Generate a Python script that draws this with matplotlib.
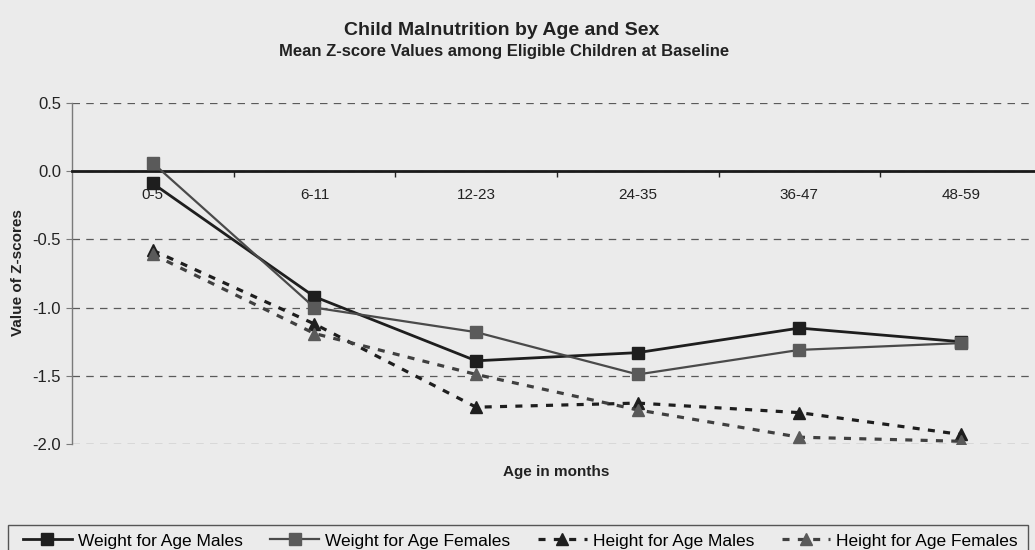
import matplotlib.pyplot as plt
from matplotlib.patches import Rectangle
from matplotlib.ticker import FixedLocator

plt.rcParams['font.family'] = ['Liberation Sans', 'DejaVu Sans']

# Mean z-scores by age group
age_groups = ['0-5', '6-11', '12-23', '24-35', '36-47', '48-59']
weight_males = [-0.09, -0.92, -1.39, -1.33, -1.15, -1.25]
weight_females = [0.06, -1.00, -1.18, -1.49, -1.31, -1.26]
height_males = [-0.58, -1.12, -1.73, -1.70, -1.77, -1.93]
height_females = [-0.61, -1.19, -1.49, -1.75, -1.95, -1.98]
y_ticks = [0.5, 0.0, -0.5, -1.0, -1.5, -2.0]

bg = '#ebebeb'
fig = plt.figure(figsize=(10.35, 5.5), dpi=100, facecolor=bg)
ax = fig.add_axes([0.0696, 0.1927, 0.937, 0.62])
ax.set_facecolor(bg)

x = list(range(len(age_groups)))
dash = (0, (2.2, 2.6))

ax.plot(x, weight_males, color='#1e1e1e', lw=2.0, marker='s', ms=8.5,
        mfc='#1e1e1e', mec='#1e1e1e', label='Weight for Age Males', zorder=4)
ax.plot(x, weight_females, color='#4a4a4a', lw=1.6, marker='s', ms=8.5,
        mfc='#5a5a5a', mec='#5a5a5a', label='Weight for Age Females', zorder=4)
ax.plot(x, height_males, color='#1e1e1e', lw=2.3, ls=dash, marker='^', ms=8.5,
        mfc='#1e1e1e', mec='#1e1e1e', label='Height for Age Males', zorder=4)
ax.plot(x, height_females, color='#404040', lw=2.3, ls=dash, marker='^', ms=8.5,
        mfc='#5a5a5a', mec='#5a5a5a', label='Height for Age Females', zorder=4)

ax.set_xlim(-0.5, len(age_groups) - 0.5)
ax.set_ylim(-2.0, 0.5)

# horizontal axis sits on the zero line
ax.spines['bottom'].set_position(('data', 0))
ax.spines['bottom'].set_linewidth(2.0)
ax.spines['bottom'].set_color('#1a1a1a')
ax.spines['top'].set_visible(False)
ax.spines['right'].set_visible(False)
ax.spines['left'].set_color('#7a7a7a')
ax.spines['left'].set_linewidth(1.0)

ax.set_xticks(x)
ax.set_xticklabels(age_groups, fontsize=11, color='#222222')
ax.tick_params(axis='x', which='major', length=0, pad=12)
ax.xaxis.set_minor_locator(FixedLocator([i + 0.5 for i in x[:-1]]))
ax.tick_params(axis='x', which='minor', length=4, direction='out', color='#222222', width=1)

ax.set_yticks(y_ticks)
ax.set_yticklabels([f'{v:.1f}' for v in y_ticks], fontsize=12, color='#222222')
ax.tick_params(axis='y', length=4, direction='out', color='#7a7a7a', pad=4)
ax.yaxis.grid(True, ls=(0, (6, 5)), color='#5a5a5a', lw=0.9)
ax.set_axisbelow(True)

fig.text(0.485, 0.945, 'Child Malnutrition by Age and Sex', ha='center', va='center',
         fontsize=14, fontweight='bold', color='#222222')
fig.text(0.487, 0.907, 'Mean Z-score Values among Eligible Children at Baseline', ha='center',
         va='center', fontsize=12, fontweight='bold', color='#222222')
fig.text(0.537, 0.142, 'Age in months', ha='center', va='center', fontsize=11,
         fontweight='bold', color='#222222')
fig.text(0.017, 0.504, 'Value of Z-scores', ha='center', va='center', rotation=90,
         fontsize=11, fontweight='bold', color='#222222')

# legend row with a box running off the bottom edge
fig.legend(loc='center left', bbox_to_anchor=(0.0222, 0.0164), ncol=4, fontsize=12.5,
           frameon=False, handlelength=2.8, handletextpad=0.35, columnspacing=1.6,
           borderpad=0, borderaxespad=0)
fig.add_artist(Rectangle((0.0077, -0.05), 0.9855, 0.0955, transform=fig.transFigure,
                         fill=False, edgecolor='#555555', lw=1.0))

fig.savefig('out.png', dpi=100, facecolor=bg)
